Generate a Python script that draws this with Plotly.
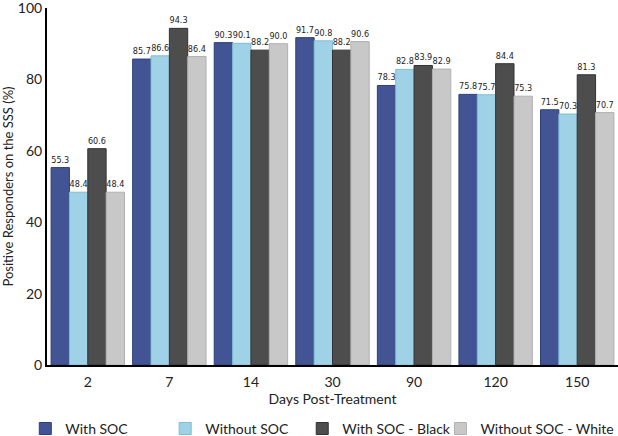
import plotly.graph_objects as go

days = ["2", "7", "14", "30", "90", "120", "150"]
with_soc = [55.3, 85.7, 90.3, 91.7, 78.3, 75.8, 71.5]
without_soc = [48.4, 86.6, 90.1, 90.8, 82.8, 75.7, 70.3]
with_soc_black = [60.6, 94.3, 88.2, 88.2, 83.9, 84.4, 81.3]
without_soc_white = [48.4, 86.4, 90.0, 90.6, 82.9, 75.3, 70.7]

series = [
    ("With SOC", with_soc, "#425493", "#2e3f7a"),
    ("Without SOC", without_soc, "#9fd2e6", "#7fbcd6"),
    ("With SOC - Black", with_soc_black, "#4d4d4d", "#333333"),
    ("Without SOC - White", without_soc_white, "#c8c8c8", "#b0b0b0"),
]
# one legend per series so the entries sit at fixed spots along the bottom
legend_x = [-0.038, 0.207, 0.447, 0.689]

fig = go.Figure()
for i, (name, vals, color, edge) in enumerate(series):
    leg = "legend" if i == 0 else f"legend{i + 1}"
    fig.add_trace(go.Bar(
        x=days, y=vals, name=name, legend=leg,
        marker=dict(color=color, line=dict(color=edge, width=1)),
        text=[f"{v:.1f}" for v in vals],
        textposition="outside",
        constraintext="none",
        textfont=dict(size=9, color="#222222", family="Liberation Sans Narrow, DejaVu Sans Condensed, Lato, sans-serif"),
        cliponaxis=False,
    ))
    fig.update_layout({leg: dict(
        orientation="h", x=legend_x[i], y=-0.179, yanchor="middle", xanchor="left",
        font=dict(size=14), itemwidth=30, bgcolor="rgba(0,0,0,0)",
    )})

fig.update_layout(
    width=618, height=436,
    margin=dict(l=47, r=0, t=8, b=71, autoexpand=False),
    paper_bgcolor="white", plot_bgcolor="white",
    font=dict(family="Lato, Open Sans, sans-serif", color="#222222"),
    barmode="group", bargap=0.1, bargroupgap=0,
    xaxis=dict(
        title=dict(text="Days Post-Treatment", font=dict(size=14), standoff=0),
        tickfont=dict(size=14), showline=True, linecolor="black", linewidth=2,
        ticks="", showgrid=False, ticklabelstandoff=3,
    ),
    yaxis=dict(
        title=dict(text="Positive Responders on the SSS (%)", font=dict(size=13), standoff=5),
        range=[0, 100], tickvals=[0, 20, 40, 60, 80, 100], tickfont=dict(size=14),
        showline=True, linecolor="black", linewidth=2, ticklabeloverflow="allow",
        ticks="", showgrid=False, zeroline=False,
    ),
    showlegend=True,
)

fig.write_html("out.html", config={"displayModeBar": False},
               post_script="document.body.style.margin='0';")
